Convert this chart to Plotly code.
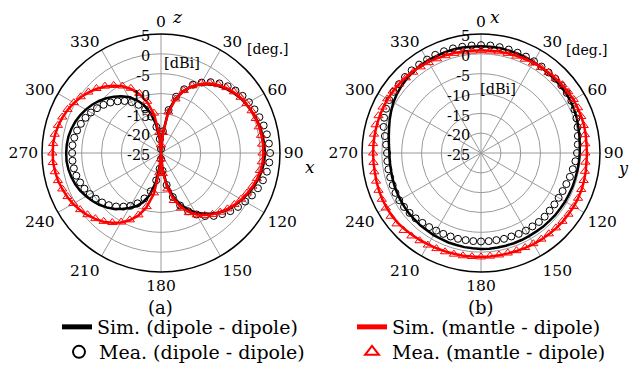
import plotly.graph_objects as go

# ---------------- data ----------------
angles = list(range(0, 360, 5))
tick_angles = [0, 30, 60, 90, 120, 150, 180, 210, 240, 270, 300, 330]
tick_angle_text = ["0", "30", "60", "90", "120", "150", "180", "210", "240", "270", "300", "330"]
radial_ticks = [-25, -20, -15, -10, -5, 0, 5]
radial_tick_text = ["-25", "-20", "-15", "-10", "-5", "0", "5"]

# (a) x-z plane [dBi], 0..355 deg step 5
a_sim_dipole = [-25, -20.2, -14.2, -10.7, -8.3, -6.5, -5.0, -3.8, -2.8, -2.0, -1.3, -0.7, -0.25, 0.15, 0.5, 0.8, 1.0, 1.1,
                1.2, 1.1, 0.8, 0.4, -0.2, -0.8, -1.5, -2.2, -2.9, -3.9, -5.0, -6.3, -7.7, -9.4, -11.4, -13.9, -17.2, -21.2,
                -25, -22.0, -17.5, -14.0, -11.8, -10.2, -9.0, -7.8, -6.6, -5.6, -4.7, -3.9, -3.2, -2.5, -2.0, -1.6, -1.3, -1.1,
                -1.1, -1.15, -1.3, -1.6, -2.0, -2.5, -3.1, -3.8, -4.6, -5.5, -6.5, -7.5, -8.7, -10.2, -12.0, -14.5, -17.5, -21.5]
a_mea_dipole = [-24.0, -19.5, -14.0, -10.3, -7.9, -6.0, -4.5, -3.2, -2.1, -1.2, -0.5, 0.1, 0.6, 1.0, 1.4, 1.8, 2.1, 2.3,
                2.5, 2.4, 2.1, 1.6, 1.0, 0.3, -0.5, -1.3, -2.2, -3.2, -4.3, -5.6, -7.1, -8.8, -10.9, -13.5, -16.8, -20.5,
                -23.5, -21.0, -18.0, -15.0, -12.8, -11.0, -9.6, -8.5, -7.4, -6.4, -5.6, -4.9, -4.3, -3.7, -3.3, -2.9, -2.7, -2.6,
                -2.6, -2.6, -2.8, -3.1, -3.5, -4.0, -4.6, -5.3, -6.1, -7.0, -8.0, -9.0, -10.2, -11.6, -13.3, -15.5, -18.3, -21.5]
a_sim_mantle = [-25, -20.5, -14.8, -11.0, -8.4, -6.4, -4.9, -3.6, -2.6, -1.8, -1.1, -0.6, -0.2, 0.1, 0.4, 0.6, 0.7, 0.8,
                0.8, 0.7, 0.5, 0.1, -0.4, -1.0, -1.6, -2.3, -3.1, -3.9, -4.8, -5.9, -7.1, -8.6, -10.5, -13.0, -16.3, -20.5,
                -25, -20.5, -14.5, -10.8, -8.2, -6.3, -4.8, -3.5, -2.4, -1.5, -0.7, 0.0, 0.6, 1.1, 1.5, 1.9, 2.1, 2.3,
                2.3, 2.3, 2.1, 1.8, 1.4, 0.9, 0.3, -0.4, -1.2, -2.1, -3.1, -4.3, -5.6, -7.2, -9.2, -11.8, -15.2, -20.5]
a_mea_mantle = [-23.0, -19.8, -14.5, -10.9, -8.2, -6.3, -4.7, -3.5, -2.5, -1.7, -1.0, -0.5, -0.1, 0.2, 0.4, 0.5, 0.6, 0.6,
                0.6, 0.5, 0.3, 0.0, -0.5, -1.1, -1.7, -2.4, -3.1, -3.9, -4.8, -5.8, -7.0, -8.4, -10.2, -12.6, -15.8, -19.8,
                -23.5, -20.0, -14.8, -11.0, -8.4, -6.4, -4.9, -3.6, -2.5, -1.6, -0.8, -0.1, 0.5, 1.0, 1.5, 1.9, 2.2, 2.4,
                2.4, 2.3, 2.2, 1.9, 1.5, 1.0, 0.4, -0.3, -1.1, -2.0, -3.0, -4.2, -5.5, -7.0, -9.0, -11.5, -14.8, -19.8]

# (b) x-y plane [dBi], 0..355 deg step 5
b_sim_dipole = [1.9, 1.9, 1.9, 1.8, 1.7, 1.6, 1.5, 1.4, 1.3, 1.3, 1.2, 1.2, 1.1, 0.9, 0.7, 0.4, 0.2, 0.0,
                -0.1, -0.2, -0.3, -0.4, -0.4, -0.5, -0.5, -0.6, -0.6, -0.7, -0.7, -0.8, -0.8, -0.8, -0.8, -0.8, -0.8, -0.8,
                -0.8, -0.9, -0.9, -1.0, -1.0, -1.1, -1.1, -1.2, -1.2, -1.3, -1.3, -1.4, -1.5, -1.6, -1.7, -1.8, -1.9, -1.9,
                -1.9, -1.7, -1.4, -1.0, -0.5, 0.0, 0.5, 0.9, 1.2, 1.5, 1.7, 1.8, 1.9, 1.9, 2.0, 2.0, 2.0, 1.9]
b_mea_dipole = [2.2, 2.2, 2.1, 2.0, 1.9, 1.8, 1.7, 1.6, 1.5, 1.5, 1.5, 1.4, 1.3, 1.0, 0.6, 0.2, -0.2, -0.5,
                -0.8, -1.1, -1.5, -1.8, -2.1, -2.3, -2.4, -2.4, -2.4, -2.3, -2.3, -2.4, -2.4, -2.5, -2.6, -2.6, -2.7, -2.7,
                -2.7, -2.7, -2.7, -2.6, -2.6, -2.5, -2.4, -2.2, -2.0, -1.7, -1.5, -1.3, -1.2, -1.2, -1.3, -1.3, -1.3, -1.3,
                -1.3, -1.0, -0.4, 0.4, 1.0, 1.4, 1.7, 1.9, 2.0, 2.1, 2.2, 2.2, 2.2, 2.3, 2.3, 2.3, 2.2, 2.2]
b_sim_mantle = [0.9, 0.9, 1.0, 1.0, 1.1, 1.2, 1.3, 1.4, 1.5, 1.6, 1.7, 1.8, 1.9, 1.9, 1.9, 1.9, 1.8, 1.7,
                1.7, 1.7, 1.8, 1.9, 2.0, 2.0, 2.0, 1.9, 1.9, 1.8, 1.7, 1.6, 1.5, 1.4, 1.3, 1.2, 1.2, 1.2,
                1.2, 1.2, 1.3, 1.3, 1.4, 1.5, 1.6, 1.8, 2.0, 2.2, 2.4, 2.5, 2.5, 2.5, 2.4, 2.3, 2.2, 2.2,
                2.2, 2.2, 2.2, 2.2, 2.2, 2.2, 2.2, 2.1, 2.0, 1.9, 1.8, 1.6, 1.5, 1.3, 1.2, 1.1, 1.0, 0.9]
b_mea_mantle = [0.8, 0.8, 0.9, 1.0, 1.0, 1.1, 1.2, 1.3, 1.5, 1.6, 1.8, 1.9, 2.0, 2.0, 1.9, 1.8, 1.6, 1.4,
                1.3, 1.4, 1.6, 1.8, 1.9, 2.0, 2.0, 1.9, 1.8, 1.7, 1.6, 1.5, 1.4, 1.3, 1.2, 1.1, 1.1, 1.1,
                1.2, 1.2, 1.3, 1.4, 1.5, 1.6, 1.8, 2.0, 2.3, 2.6, 2.8, 2.8, 2.7, 2.6, 2.5, 2.4, 2.3, 2.2,
                2.2, 2.3, 2.4, 2.5, 2.5, 2.4, 2.3, 2.2, 2.0, 1.8, 1.6, 1.5, 1.3, 1.2, 1.1, 1.0, 0.9, 0.8]

legend_names = ["Sim. (dipole - dipole)", "Sim. (mantle - dipole)",
                "Mea. (dipole - dipole)", "Mea. (mantle - dipole)"]

# ---------------- figure ----------------
FONT = "DejaVu Serif"
BLACK = "#000000"
RED = "#ff0000"


def closed(v):
    return list(v) + [v[0]]


closed_angles = angles + [angles[0]]

fig = go.Figure()
panels = [("polar", a_sim_dipole, a_mea_dipole, a_sim_mantle, a_mea_mantle, True),
          ("polar2", b_sim_dipole, b_mea_dipole, b_sim_mantle, b_mea_mantle, False)]
for sp, sd, md, sm, mm, show in panels:
    fig.add_trace(go.Scatterpolar(r=closed(sd), theta=closed_angles, mode="lines", subplot=sp,
                                  line=dict(color=BLACK, width=2.5), name=legend_names[0],
                                  legend="legend", showlegend=show))
    fig.add_trace(go.Scatterpolar(r=md, theta=angles, mode="markers", subplot=sp,
                                  marker=dict(symbol="circle-open", size=7, color=BLACK, line=dict(width=1)),
                                  name=legend_names[2], legend="legend3", showlegend=show))
    fig.add_trace(go.Scatterpolar(r=closed(sm), theta=closed_angles, mode="lines", subplot=sp,
                                  line=dict(color=RED, width=2.5), name=legend_names[1],
                                  legend="legend2", showlegend=show))
    fig.add_trace(go.Scatterpolar(r=mm, theta=angles, mode="markers", subplot=sp,
                                  marker=dict(symbol="triangle-up-open", size=8, color=RED, line=dict(width=1)),
                                  name=legend_names[3], legend="legend4", showlegend=show))

W, H = 630, 376


def px(x):
    return x / W


def py(y):
    return 1 - y / H


R = 119
polar_common = dict(
    bgcolor="white",
    angularaxis=dict(rotation=90, direction="clockwise", tickmode="array",
                     tickvals=tick_angles, ticktext=tick_angle_text,
                     showline=True, linecolor=BLACK, linewidth=1.5,
                     gridcolor="#9a9a9a", gridwidth=1, ticks="",
                     tickfont=dict(family=FONT, size=15.5, color=BLACK)),
    radialaxis=dict(range=[-25, 5], tickmode="array", tickvals=radial_ticks, ticktext=radial_tick_text,
                    angle=90, side="counterclockwise", showline=False, ticks="",
                    gridcolor="#9a9a9a", gridwidth=1,
                    tickfont=dict(family=FONT, size=14.5, color=BLACK)),
)
for name, cx in (("polar", 161), ("polar2", 481)):
    fig.update_layout(**{name: dict(domain=dict(x=[px(cx - R), px(cx + R)], y=[py(153 + R), py(153 - R)]),
                                    **polar_common)})

leg_common = dict(bgcolor="rgba(0,0,0,0)", font=dict(family=FONT, size=19, color=BLACK),
                  xanchor="left", yanchor="middle", itemsizing="constant")
fig.update_layout(
    legend=dict(x=px(57), y=py(327), **leg_common),
    legend2=dict(x=px(352), y=py(327), **leg_common),
    legend3=dict(x=px(59), y=py(352), **leg_common),
    legend4=dict(x=px(352), y=py(352), **leg_common),
)

annots = [
    (177, 17, "<i>z</i>", 17), (310, 167, "<i>x</i>", 17),
    (495, 17, "<i>x</i>", 17), (623, 168, "<i>y</i>", 16),
    (268, 49, "[deg.]", 14), (587, 50, "[deg.]", 14),
    (182, 63, "[dBi]", 14.5), (498, 89, "[dBi]", 14.5),
    (160, 307, "(a)", 18), (481, 307, "(b)", 18),
]
fig.update_layout(annotations=[dict(x=px(x), y=py(y), xref="paper", yref="paper", text=t, showarrow=False,
                                    xanchor="center", yanchor="middle",
                                    font=dict(family=FONT, size=s, color=BLACK)) for x, y, t, s in annots])

fig.update_layout(width=W, height=H, margin=dict(l=0, r=0, t=0, b=0),
                  paper_bgcolor="white", plot_bgcolor="white", showlegend=True)
fig.write_html("out.html")
